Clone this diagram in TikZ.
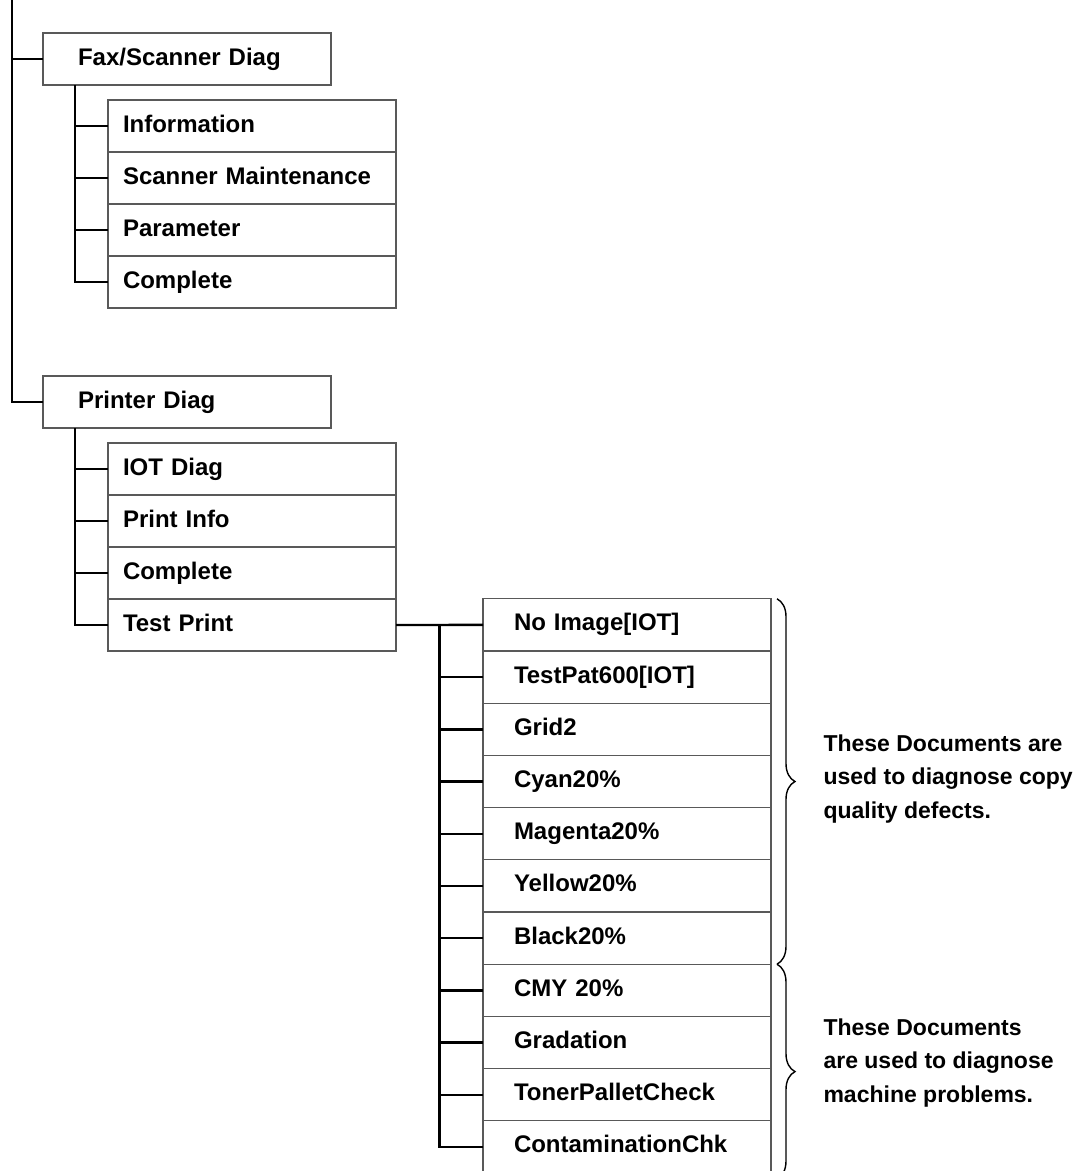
\documentclass[tikz,border=0pt]{standalone}
\usepackage{fontspec}
\setmainfont{Liberation Sans}
\usetikzlibrary{positioning,calc,decorations.pathreplacing}

\begin{document}
\begin{tikzpicture}[x=1pt,y=-1pt,
  box/.style={draw=black!65,line width=1.1pt,outer sep=0pt,minimum height=52pt,text width=288pt,inner xsep=0pt,
    text height=17pt,text depth=5pt,align=left,anchor=north west,font=\fontsize{24}{28}\selectfont\bfseries},
  lead/.style={execute at begin node=\hspace*{#1}},
  link/.style={line width=2.4pt,black},
  brace/.style={decorate,decoration={brace,amplitude=18pt},line width=1.4pt},
  note/.style={anchor=west,align=left,font=\fontsize{23}{33.5}\selectfont\bfseries}]

 \useasboundingbox (0,0) rectangle (1076,1171);
 \coordinate (top) at (12,0);

 % fax / scanner branch
 \node[box,lead=35pt] (fax) at (43,33) {Fax/Scanner Diag};
 \node[box,lead=15pt] (fax1) at (108,100) {Information};
 \foreach \t [count=\i from 2, remember=\i as \j (initially 1)] in {Scanner Maintenance,Parameter,Complete}
   \node[box,lead=15pt,below=0pt of fax\j] (fax\i) {\t};

 % printer branch
 \node[box,lead=35pt] (prn) at (43,376) {Printer Diag};
 \node[box,lead=15pt] (prn1) at (108,443) {IOT Diag};
 \foreach \t [count=\i from 2, remember=\i as \j (initially 1)] in {Print Info,Complete,Test Print}
   \node[box,lead=15pt,below=0pt of prn\j] (prn\i) {\t};

 % test print documents
 \node[box,lead=31pt,minimum height=52.2pt] (tp1) at (483,598.8) {No Image[IOT]};
 \foreach \t [count=\i from 2, remember=\i as \j (initially 1)] in
   {{TestPat600[IOT]},Grid2,Cyan20\%,Magenta20\%,Yellow20\%,Black20\%,CMY 20\%,Gradation,TonerPalletCheck,ContaminationChk}
   \node[box,lead=31pt,minimum height=52.2pt,below=0pt of tp\j] (tp\i) {\t};

 % tree lines
 \draw[link] (top) |- (fax.west);
 \draw[link] (top) |- (prn.west);
 \foreach \i in {1,...,4} {
   \draw[link] ([xshift=32pt]fax.south west) |- (fax\i.west);
   \draw[link] ([xshift=32pt]prn.south west) |- (prn\i.west);
 }
 \coordinate (fork) at ($(prn4.east)!0.5!(tp1.west)$);
 \draw[link] (prn4.east) -- (tp1.west);
 \foreach \i in {2,...,11}
   \draw[link] (fork) |- (tp\i.west);

 % braces and notes
 \draw[brace] ([xshift=6pt]tp1.north east) -- ([xshift=6pt]tp7.south east);
 \draw[brace] ([xshift=6pt]tp8.north east) -- ([xshift=6pt,yshift=-6pt]tp11.south east);
 \node[note] (copy) at (820,779) {These Documents are\\used to diagnose copy\\quality defects.};
 \node[note] (mach) at (820,1063) {These Documents\\are used to diagnose\\machine problems.};
\end{tikzpicture}
\end{document}
